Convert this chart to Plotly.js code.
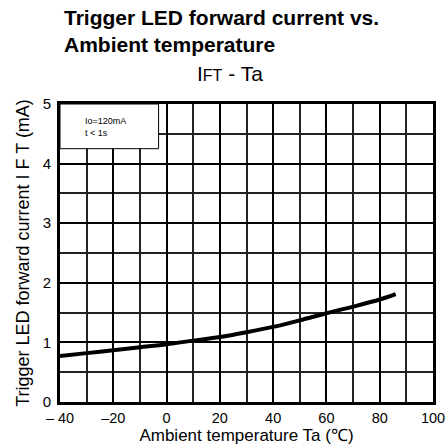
<!DOCTYPE html>
<html>
<head>
<meta charset="utf-8">
<script src="https://cdn.plot.ly/plotly-3.0.1.min.js"></script>
<style>html,body{margin:0;padding:0;background:#fff;}#chart{width:448px;height:445px;}</style>
</head>
<body>
<div id="chart"></div>
<script>
const temperature = [-40, -30, -20, -10, 0, 10, 20, 30, 40, 50, 60, 70, 80, 86];
const forwardCurrent = [0.77, 0.82, 0.87, 0.92, 0.97, 1.03, 1.09, 1.17, 1.26, 1.37, 1.49, 1.60, 1.72, 1.81];
const xTickVals = [-40, -20, 0, 20, 40, 60, 80, 100];
const xTickText = ['\u2013 40', '\u201320', '0', '20', '40', '60', '80', '100'];
const yTickVals = [0, 1, 2, 3, 4, 5];
const conditionLines = ['Io=120mA', 't < 1s'];

const font = 'Liberation Sans, Arial, sans-serif';
const PL = 60, PT = 104, PW = 373, PH = 298;
const px = x => (x - PL) / PW;
const py = y => (PT + PH - y) / PH;

const trace = {
  x: temperature,
  y: forwardCurrent,
  type: 'scatter',
  mode: 'lines',
  line: {color: '#000', width: 4, shape: 'spline'},
  hoverinfo: 'skip'
};

const layout = {
  width: 448, height: 445,
  margin: {l: PL, r: 448 - PL - PW, t: PT, b: 445 - PT - PH},
  paper_bgcolor: '#fff', plot_bgcolor: '#fff',
  showlegend: false,
  font: {family: font, color: '#000'},
  xaxis: {
    range: [-40, 100], fixedrange: true,
    tickvals: xTickVals, ticktext: xTickText,
    ticks: '', showgrid: true, gridcolor: '#000', gridwidth: 2,
    minor: {dtick: 10, tick0: -40, showgrid: true, gridcolor: '#222', gridwidth: 1.5, ticks: ''},
    showline: true, linecolor: '#000', linewidth: 3, mirror: true,
    zeroline: false,
    tickfont: {family: font, size: 14.5, color: '#000'},
    ticklabelstandoff: 1,
    title: {text: 'Ambient temperature Ta (\u2103)', font: {family: font, size: 17, color: '#000'}, standoff: 2}
  },
  yaxis: {
    range: [0, 5], fixedrange: true,
    tickvals: yTickVals,
    ticks: '', showgrid: true, gridcolor: '#000', gridwidth: 2,
    minor: {dtick: 0.5, tick0: 0, showgrid: true, gridcolor: '#222', gridwidth: 1.5, ticks: ''},
    showline: true, linecolor: '#000', linewidth: 3, mirror: true,
    zeroline: false,
    tickfont: {family: font, size: 15, color: '#000'},
    ticklabelstandoff: 3,
    title: {text: 'Trigger LED forward current I F T (mA)', font: {family: font, size: 18, color: '#000'}, standoff: 9}
  },
  shapes: [{
    type: 'rect', xref: 'x', yref: 'y', x0: -40, x1: -3, y0: 4.25, y1: 5,
    fillcolor: '#fff', line: {color: '#000', width: 1}, layer: 'above'
  }],
  annotations: [
    {
      text: '<b>Trigger LED forward current vs.<br>Ambient temperature</b>',
      xref: 'paper', yref: 'paper', x: px(62), y: py(4),
      xanchor: 'left', yanchor: 'top', align: 'left', showarrow: false,
      font: {family: font, size: 21, color: '#000'}
    },
    {
      text: 'I<span style="font-size:16px">FT</span> - Ta',
      xref: 'paper', yref: 'paper', x: px(230), y: py(73),
      xanchor: 'center', yanchor: 'middle', showarrow: false,
      font: {family: font, size: 21, color: '#000'}
    },
    {
      text: conditionLines.join('<br>'),
      xref: 'x', yref: 'y', x: -31.5, y: 4.62,
      xanchor: 'left', yanchor: 'middle', align: 'left', showarrow: false,
      font: {family: font, size: 9, color: '#000'}
    }
  ]
};

Plotly.newPlot('chart', [trace], layout, {displayModeBar: false});
</script>
</body>
</html>
